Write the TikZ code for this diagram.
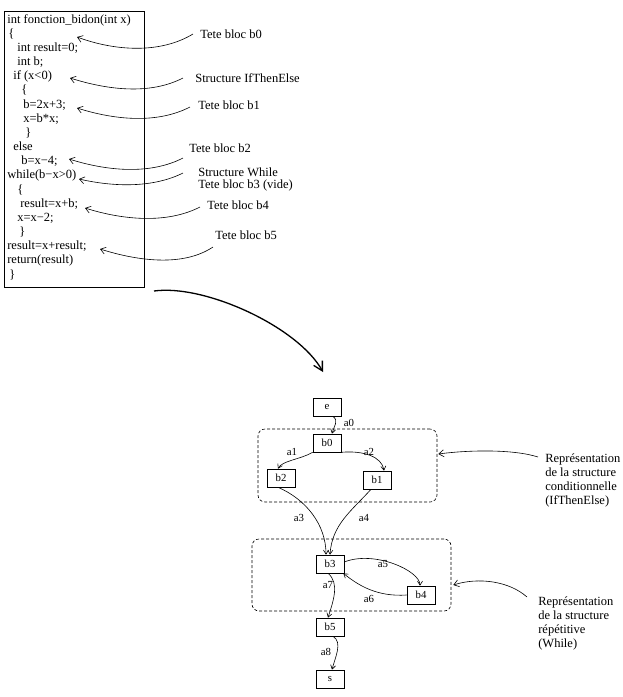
\documentclass[tikz,border=0pt]{standalone}
\usepackage{fontspec}
\setmainfont{Liberation Serif}
\usetikzlibrary{arrows.meta}
\newcommand{\codefont}{\fontsize{12.5}{14}\selectfont}
\newcommand{\grafont}{\fontsize{10.8}{13}\selectfont}
\begin{document}
\begin{tikzpicture}[x=1pt,y=-1pt,line width=0.6pt,
  code/.style={anchor=base west,font=\codefont},
  note/.style={anchor=west,align=left,font=\codefont},
  blk/.style={draw,minimum width=28pt,minimum height=18pt,font=\grafont},
  grp/.style={draw,dash pattern=on 3pt off 2pt,rounded corners=7pt},
  lbl/.style={font=\grafont},
  ptr/.style={-{Straight Barb[length=5pt,width=7pt]}},
  arc/.style={-{Straight Barb[length=4pt,width=5pt]}}]
\tikzstyle{every node}+=[inner sep=0pt]
\useasboundingbox (0,0) rectangle (622,697);
% source code
\draw (4,11) rectangle (144,287);
\foreach \x/\t [count=\i] in {7/{int fonction\_bidon(int x)}, 8/\{, 17/{int result=0;},
  17/{int b;}, 13/{if (x<0)}, 21/\{, 23/{b=2x+3;}, 23/{x=b*x;}, 25/\}, 13/else,
  21/{b=x−4;}, 7/{while(b−x>0)}, 17/\{, 20/{result=x+b;}, 17/{x=x−2;}, 19/\},
  7/{result=x+result;}, 7/{return(result)}, 9/\}}
  \node[code] (line\i) at (\x,{23+14.17*(\i-1)}) {\t};
% comments on the code
\node[note] (tb0) at (200,34) {Tete bloc b0};
\node[note] (sif) at (195,78) {Structure IfThenElse};
\node[note] (tb1) at (198,105) {Tete bloc b1};
\node[note] (tb2) at (189,148) {Tete bloc b2};
\node[note,font=\fontsize{12.5}{12}\selectfont] (swh) at (198,179) {Structure While\\Tete bloc b3 (vide)};
\node[note] (tb4) at (207,205) {Tete bloc b4};
\node[note] (tb5) at (215,235) {Tete bloc b5};
\coordinate (h0) at (77,37);
\coordinate (h1) at (70,78);
\coordinate (h2) at (77,108);
\coordinate (h3) at (69,159);
\coordinate (h4) at (79,179);
\coordinate (h5) at (85,208);
\coordinate (h6) at (100,249);
\draw[ptr] ([xshift=-7pt]tb0.west) .. controls +(-33,20) and +(38,14) .. (h0);
\draw[ptr] ([xshift=-12pt]sif.west) .. controls +(-33,17) and +(38,12) .. (h1);
\draw[ptr] ([shift={(-8,2)}]tb1.west) .. controls +(-33,17) and +(38,12) .. (h2);
\draw[ptr] ([shift={(-6,10)}]tb2.west) .. controls +(-33,17) and +(38,12) .. (h3);
\draw[ptr] ([shift={(-15,-6)}]swh.west) .. controls +(-30,15) and +(35,8) .. (h4);
\draw[ptr] ([shift={(-7,2)}]tb4.west) .. controls +(-33,17) and +(38,12) .. (h5);
\draw[ptr] ([shift={(-2,12)}]tb5.west) .. controls +(-30,20) and +(38,12) .. (h6);
% big arrow
\coordinate (bs) at (154,291);
\coordinate (be) at (323,372);
\draw[line width=1.3pt,-{Straight Barb[length=9pt,width=10pt]}] (bs) .. controls (205,284) and (298,327) .. (be);
% graph
\node[grp,minimum width=179pt,minimum height=73pt] (ifgrp) at (347.5,465.5) {};
\node[grp,minimum width=199pt,minimum height=72pt] (whgrp) at (351.5,575) {};
\node[blk] (e) at (327,407) {e};
\node[blk] (b0) at (327,443) {b0};
\node[blk] (b2) at (281,478) {b2};
\node[blk] (b1) at (377,480) {b1};
\node[blk] (b3) at (330,564) {b3};
\node[blk] (b4) at (421,595) {b4};
\node[blk] (b5) at (330,627) {b5};
\node[blk] (s) at (330,679) {s};
\draw[arc] ([xshift=6pt]e.south) .. controls +(6,5) and +(2,-8) .. ([xshift=5pt]b0.north);
\draw[arc] (b0.south west) .. controls +(-12,7) and +(4,-8) .. ([xshift=-3pt]b2.north);
\draw[arc] (b0.south east) .. controls +(22,-2) and +(-2,-14) .. ([xshift=7pt]b1.north);
\draw[arc] ([xshift=-3pt]b2.south) .. controls +(28,12) and +(0,-30) .. ([xshift=-4pt]b3.north);
\draw[arc] ([xshift=-6pt]b1.south) .. controls +(-20,22) and +(2,-30) .. (b3.north);
\draw[arc] ([yshift=2pt]b3.east) .. controls +(30,-12) and +(0,-15) .. ([xshift=-1pt]b4.north);
\draw[arc] (b4.west) .. controls +(-30,2) and +(15,12) .. ([xshift=-1pt]b3.south east);
\draw[arc] ([xshift=-2pt]b3.south) .. controls +(12,10) and +(5,-16) .. ([xshift=-2pt]b5.north);
\draw[arc] ([xshift=3pt]b5.south) .. controls +(10,6) and +(3,-12) .. ([xshift=2pt]s.north);
\node[lbl] (la0) at (349,423) {a0};
\node[lbl] (la1) at (292,452) {a1};
\node[lbl] (la2) at (369,452) {a2};
\node[lbl] (la3) at (299,518) {a3};
\node[lbl] (la4) at (364,518) {a4};
\node[lbl] (la5) at (383,564) {a5};
\node[lbl] (la6) at (369,599) {a6};
\node[lbl] (la7) at (328,585) {a7};
\node[lbl] (la8) at (326,652) {a8};
% structure notes
\node[note,font=\fontsize{12.5}{14.3}\selectfont] (rif) at (545,480.5) {Représentation\\de la structure\\conditionnelle\\(IfThenElse)};
\node[note,font=\fontsize{12.5}{14.3}\selectfont] (rwh) at (538,623.5) {Représentation\\de la structure\\répétitive\\(While)};
\draw[ptr] ([shift={(-7,-23.5)}]rif.west) .. controls +(-25,-8) and +(30,-4) .. ([shift={(1,-11.5)}]ifgrp.east);
\draw[ptr] ([shift={(-11,-26.5)}]rwh.west) .. controls +(-18,-16) and +(25,-8) .. ([shift={(2,10)}]whgrp.east);
\end{tikzpicture}
\end{document}
